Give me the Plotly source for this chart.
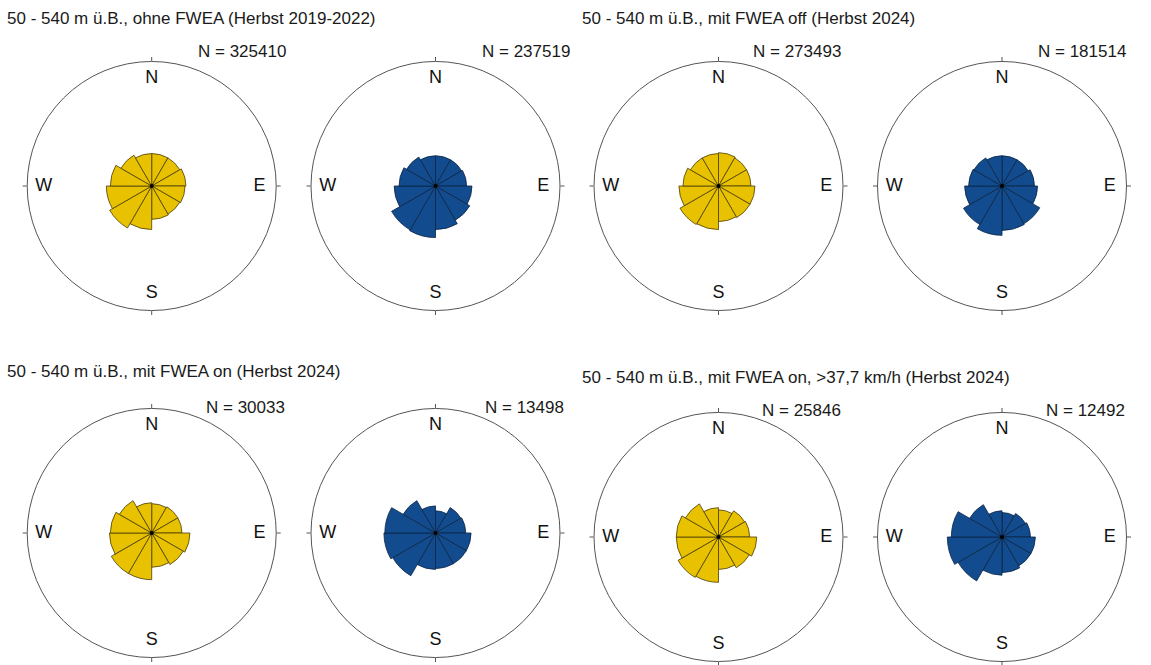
import plotly.graph_objects as go

# Direction sectors (30° bins, centre bearing in degrees from north, clockwise)
SECTOR_CENTRES = [15, 45, 75, 105, 135, 165, 195, 225, 255, 285, 315, 345]
SECTOR_WIDTH = 30

# Relative frequency per sector (%)
ohne_fwea_gelb = [7.3, 7.3, 7.7, 7.5, 7.3, 7.5, 9.8, 10.9, 10.2, 9.3, 8.0, 7.3]
ohne_fwea_blau = [6.8, 6.8, 7.0, 8.2, 8.9, 9.8, 11.6, 11.4, 9.3, 8.2, 7.5, 6.8]
fwea_off_gelb = [7.5, 7.3, 7.3, 8.2, 8.2, 8.0, 9.8, 10.0, 8.9, 8.0, 7.3, 7.3]
fwea_off_blau = [6.8, 6.8, 7.3, 8.0, 9.8, 10.0, 11.1, 10.0, 8.4, 7.5, 7.3, 6.8]
fwea_on_gelb = [6.6, 6.8, 6.8, 8.6, 8.2, 7.7, 10.5, 10.5, 9.5, 9.3, 8.4, 6.8]
fwea_on_blau = [5.0, 6.6, 6.8, 8.0, 8.0, 8.0, 8.2, 11.1, 11.6, 11.4, 8.4, 6.1]
fwea_on_wind_gelb = [6.1, 6.8, 7.0, 8.6, 8.0, 7.3, 10.2, 10.5, 9.5, 9.5, 8.6, 6.6]
fwea_on_wind_blau = [5.5, 6.1, 6.4, 7.5, 7.5, 8.0, 8.6, 11.4, 12.3, 11.4, 8.4, 5.9]

# Number of tracks per rose
counts = [325410, 237519, 273493, 181514, 30033, 13498, 25846, 12492]

titles = [
    "50 - 540 m ü.B., ohne FWEA (Herbst 2019-2022)",
    "50 - 540 m ü.B., mit FWEA off (Herbst 2024)",
    "50 - 540 m ü.B., mit FWEA on (Herbst 2024)",
    "50 - 540 m ü.B., mit FWEA on, >37,7 km/h (Herbst 2024)",
]

compass_labels = ["N", "E", "S", "W"]
compass_bearings = [0, 90, 180, 270]

R_MAX = 28.0

W, H = 1151, 665
FONT = "Arial, Liberation Sans, sans-serif"
GELB, GELB_LINE = "#E8C200", "#4a3d08"
BLAU, BLAU_LINE = "#134C8E", "#0b2545"

series = [
    (ohne_fwea_gelb, GELB, GELB_LINE),
    (ohne_fwea_blau, BLAU, BLAU_LINE),
    (fwea_off_gelb, GELB, GELB_LINE),
    (fwea_off_blau, BLAU, BLAU_LINE),
    (fwea_on_gelb, GELB, GELB_LINE),
    (fwea_on_blau, BLAU, BLAU_LINE),
    (fwea_on_wind_gelb, GELB, GELB_LINE),
    (fwea_on_wind_blau, BLAU, BLAU_LINE),
]

# Layout of the eight roses in pixels: centre x, centre y (from top)
RADIUS_PX = 124.5
centres = [
    (151.7, 186), (435.5, 186), (718.5, 186), (1002, 186),
    (151.7, 533), (435.5, 533), (718.5, 537), (1002, 537),
]
# Right edge of the "N = ..." label (pixels)
count_pos = [
    (288, 52), (572, 52), (843, 52), (1128, 52),
    (287, 407), (566, 407), (843, 410), (1127, 410),
]
title_pos = [(5, 18), (580, 18), (5, 371), (580, 377)]

fig = go.Figure()
layout_polars = {}

for i, ((vals, fill, edge), (cx, cy)) in enumerate(zip(series, centres)):
    name = "polar" if i == 0 else f"polar{i + 1}"
    sub = name
    fig.add_trace(go.Barpolar(
        r=vals, theta=SECTOR_CENTRES, width=[SECTOR_WIDTH] * len(vals),
        marker=dict(color=fill, line=dict(color=edge, width=0.8)),
        subplot=sub, showlegend=False, hoverinfo="skip",
    ))
    # centre point
    fig.add_trace(go.Scatterpolar(
        r=[0], theta=[0], mode="markers",
        marker=dict(color="black", size=4),
        subplot=sub, showlegend=False, hoverinfo="skip",
    ))
    # compass letters inside the ring
    fig.add_trace(go.Scatterpolar(
        r=[R_MAX * 0.866] * 4, theta=compass_bearings, mode="text",
        text=compass_labels, textfont=dict(family=FONT, size=18, color="#111"),
        subplot=sub, showlegend=False, hoverinfo="skip",
    ))
    layout_polars[name] = dict(
        domain=dict(
            x=[(cx - RADIUS_PX) / W, (cx + RADIUS_PX) / W],
            y=[(H - cy - RADIUS_PX) / H, (H - cy + RADIUS_PX) / H],
        ),
        bgcolor="white",
        radialaxis=dict(visible=False, range=[0, R_MAX]),
        angularaxis=dict(
            rotation=90, direction="clockwise",
            showgrid=False, showticklabels=False,
            showline=True, linecolor="#555", linewidth=1,
            ticks="outside", ticklen=4, tickcolor="#555",
            tickmode="array", tickvals=compass_bearings,
        ),
    )

annotations = []
for text, (x, y) in zip(titles, title_pos):
    annotations.append(dict(
        text=text, x=x / W, y=1 - y / H, xref="paper", yref="paper",
        xanchor="left", yanchor="middle", showarrow=False,
        font=dict(family=FONT, size=17, color="#1a1a1a"),
    ))
for n, (x, y) in zip(counts, count_pos):
    annotations.append(dict(
        text=f"N = {n}", x=x / W, y=1 - y / H, xref="paper", yref="paper",
        xanchor="right", yanchor="middle", showarrow=False,
        font=dict(family=FONT, size=17, color="#1a1a1a"),
    ))

fig.update_layout(
    width=W, height=H,
    margin=dict(l=0, r=0, t=0, b=0),
    paper_bgcolor="white", plot_bgcolor="white",
    annotations=annotations,
    **layout_polars,
)

fig.write_html("out.html")
